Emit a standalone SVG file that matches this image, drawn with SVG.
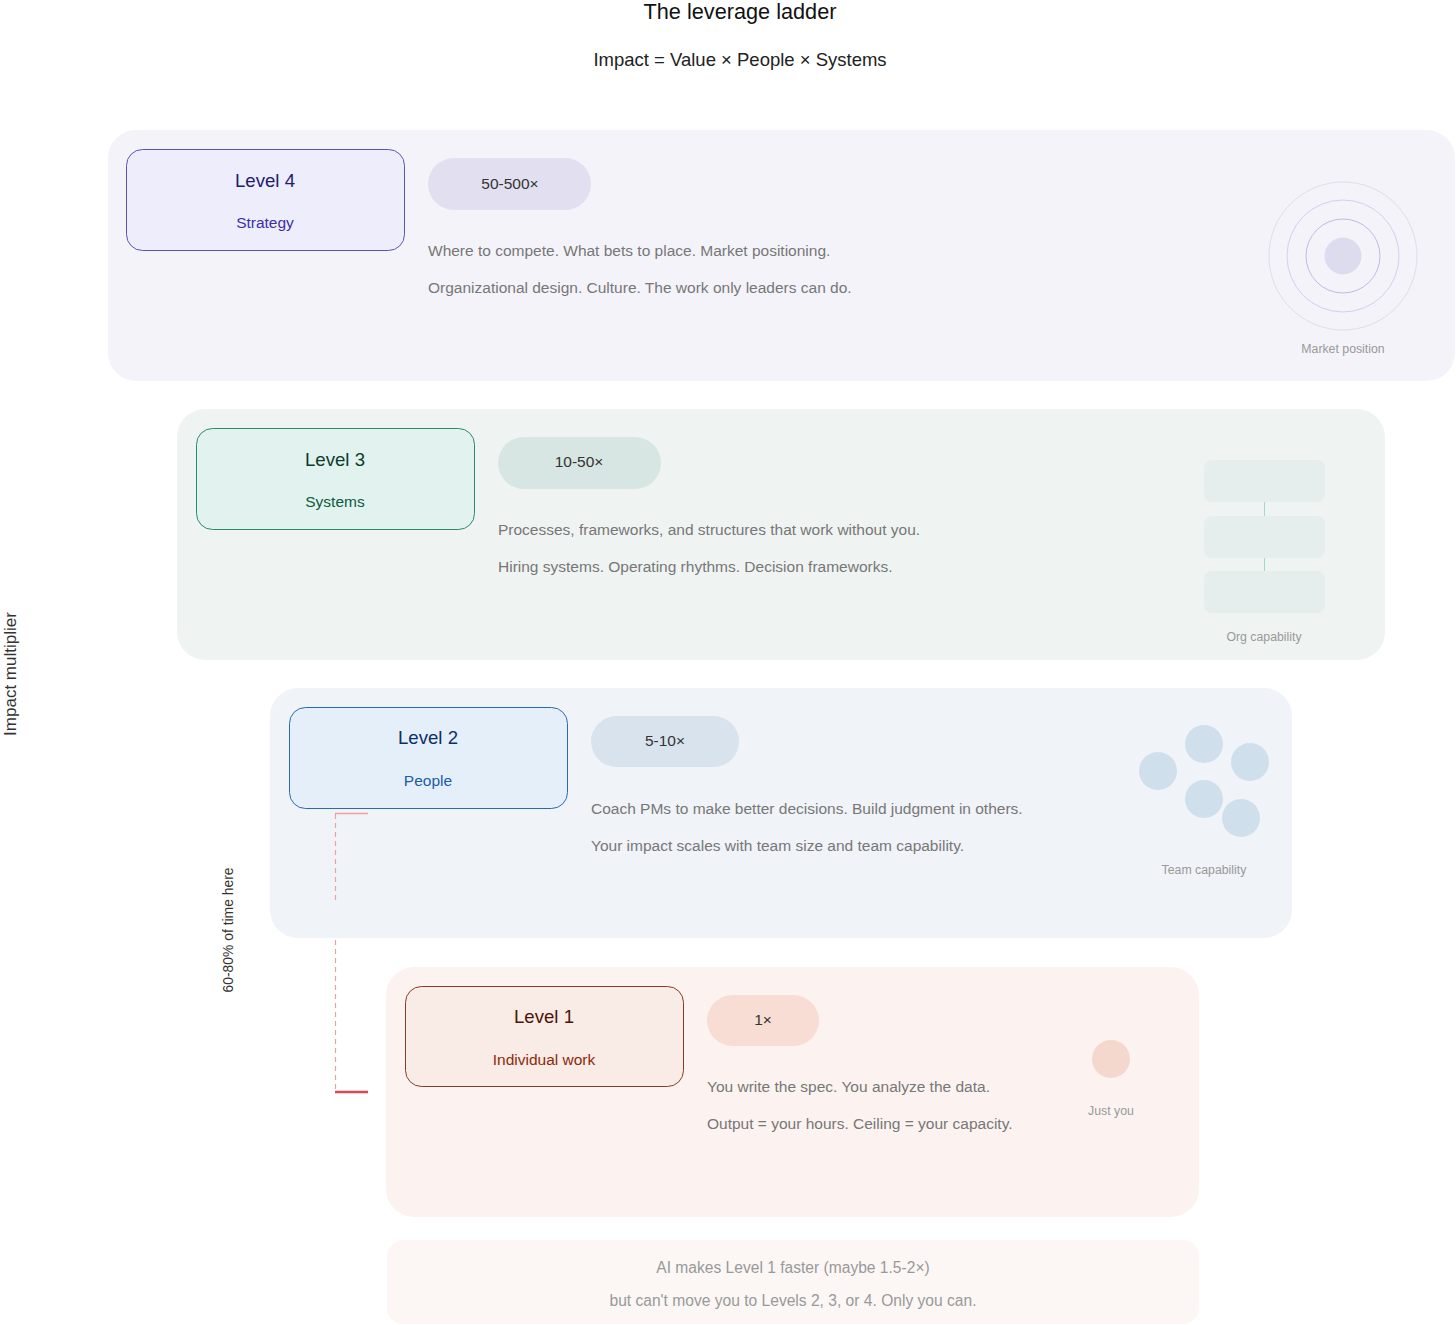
<svg xmlns="http://www.w3.org/2000/svg" width="1456" height="1325" viewBox="0 0 1456 1325">
<style>
text{font-family:"Liberation Sans",Arial,sans-serif}
.t{font-size:21.7px;fill:#111;text-anchor:middle}
.st{font-size:18.5px;fill:#222;text-anchor:middle}
.lv{font-size:18.6px;text-anchor:middle}
.sub{font-size:15.5px;text-anchor:middle}
.pill{font-size:15.5px;fill:#333;text-anchor:middle}
.d{font-size:15.5px;fill:#777}
.cap{font-size:12.3px;fill:#999;text-anchor:middle}
.note{font-size:15.6px;fill:#999;text-anchor:middle}
.ax{font-size:17px;fill:#333;text-anchor:middle}
</style>
<rect width="1456" height="1325" fill="#fff"/>
<text class="t" x="740" y="19">The leverage ladder</text>
<text class="st" x="740" y="66">Impact = Value × People × Systems</text>
<text class="ax" transform="translate(16,674) rotate(-90)">Impact multiplier</text>

<g id="level4">
<rect x="108" y="130" width="1347" height="251" rx="28" fill="#f4f3f9"/>
<rect x="126.5" y="149.5" width="278" height="101" rx="16" fill="#eeedfb" stroke="#5b52c0"/>
<text class="lv" x="265" y="187" fill="#231a70">Level 4</text>
<text class="sub" x="265" y="228" fill="#3b2fa8">Strategy</text>
<rect x="428" y="158" width="163" height="52" rx="26" fill="#e2e0f0"/>
<text class="pill" x="510" y="189">50-500×</text>
<text class="d" x="428" y="256">Where to compete. What bets to place. Market positioning.</text>
<text class="d" x="428" y="293">Organizational design. Culture. The work only leaders can do.</text>
<circle cx="1343" cy="256" r="74" fill="none" stroke="#e0dcf0" stroke-width="1"/>
<circle cx="1343" cy="256" r="56" fill="none" stroke="#d4d0ee" stroke-width="1"/>
<circle cx="1343" cy="256" r="37" fill="none" stroke="#c0bbe6" stroke-width="1"/>
<circle cx="1343" cy="256" r="18.5" fill="#dddbee"/>
<text class="cap" x="1343" y="353">Market position</text>
</g>

<g id="level3">
<rect x="177" y="409" width="1208" height="251" rx="28" fill="#eff4f3"/>
<rect x="196.5" y="428.5" width="278" height="101" rx="16" fill="#e2f2ee" stroke="#2a8a6a"/>
<text class="lv" x="335" y="466" fill="#0b3d2c">Level 3</text>
<text class="sub" x="335" y="507" fill="#0d5a3e">Systems</text>
<rect x="498" y="437" width="163" height="52" rx="26" fill="#d7e6e2"/>
<text class="pill" x="579" y="467">10-50×</text>
<text class="d" x="498" y="535">Processes, frameworks, and structures that work without you.</text>
<text class="d" x="498" y="572">Hiring systems. Operating rhythms. Decision frameworks.</text>
<rect x="1204" y="460" width="121" height="42" rx="8" fill="#e5eeed"/>
<rect x="1204" y="516" width="121" height="42" rx="8" fill="#e5eeed"/>
<rect x="1204" y="571" width="121" height="42" rx="8" fill="#e5eeed"/>
<line x1="1264.5" y1="502" x2="1264.5" y2="516" stroke="#a6d8c8"/>
<line x1="1264.5" y1="558" x2="1264.5" y2="571" stroke="#a6d8c8"/>
<text class="cap" x="1264" y="641">Org capability</text>
</g>

<g id="level2">
<rect x="270" y="688" width="1022" height="250" rx="28" fill="#f0f3f8"/>
<rect x="289.5" y="707.5" width="278" height="101" rx="16" fill="#e5eff9" stroke="#2a6ab0"/>
<text class="lv" x="428" y="744" fill="#0d2f66">Level 2</text>
<text class="sub" x="428" y="786" fill="#1a5ca8">People</text>
<rect x="591" y="716" width="148" height="51" rx="25.5" fill="#d9e3ee"/>
<text class="pill" x="665" y="746">5-10×</text>
<text class="d" x="591" y="814">Coach PMs to make better decisions. Build judgment in others.</text>
<text class="d" x="591" y="851">Your impact scales with team size and team capability.</text>
<circle cx="1158" cy="771" r="19" fill="#d0dfec"/>
<circle cx="1204" cy="744" r="19" fill="#d0dfec"/>
<circle cx="1250" cy="762" r="19" fill="#d0dfec"/>
<circle cx="1204" cy="799" r="19" fill="#d0dfec"/>
<circle cx="1241" cy="818" r="19" fill="#d0dfec"/>
<text class="cap" x="1204" y="874">Team capability</text>
</g>

<g id="level1">
<rect x="386" y="967" width="813" height="250" rx="28" fill="#fcf3f0"/>
<rect x="405.5" y="986.5" width="278" height="100" rx="16" fill="#f9ebe6" stroke="#8b3a2a"/>
<text class="lv" x="544" y="1023" fill="#4a1508">Level 1</text>
<text class="sub" x="544" y="1065" fill="#8b2a0a">Individual work</text>
<rect x="707" y="995" width="112" height="51" rx="25.5" fill="#f8ddd4"/>
<text class="pill" x="763" y="1025">1×</text>
<text class="d" x="707" y="1092">You write the spec. You analyze the data.</text>
<text class="d" x="707" y="1129">Output = your hours. Ceiling = your capacity.</text>
<circle cx="1111" cy="1059" r="19" fill="#f4d7cd"/>
<text class="cap" x="1111" y="1115">Just you</text>
</g>

<g id="note">
<rect x="387" y="1240" width="812" height="84" rx="16" fill="#fcf7f5"/>
<text class="note" x="793" y="1273">AI makes Level 1 faster (maybe 1.5-2×)</text>
<text class="note" x="793" y="1306">but can't move you to Levels 2, 3, or 4. Only you can.</text>
</g>

<g id="connectors">
<line x1="335" y1="813.5" x2="368" y2="813.5" stroke="#eea0a0" stroke-width="1.5"/>
<line x1="335.5" y1="814" x2="335.5" y2="903" stroke="#eea0a0" stroke-width="1.2" stroke-dasharray="5,4"/>
<line x1="335.5" y1="940" x2="335.5" y2="1091" stroke="#eea0a0" stroke-width="1.2" stroke-dasharray="5,4"/>
<line x1="335" y1="1092" x2="368" y2="1092" stroke="#e04848" stroke-width="2.5"/>
<text font-size="13.9" fill="#333" text-anchor="middle" transform="translate(233,930) rotate(-90)">60-80% of time here</text>
</g>
</svg>
